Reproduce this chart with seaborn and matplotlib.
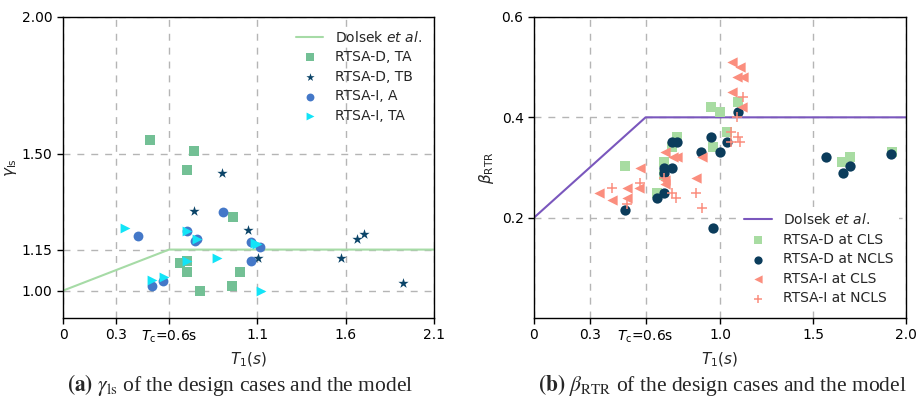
import numpy as np
import pandas as pd
import matplotlib
matplotlib.use("Agg")
import matplotlib.pyplot as plt
import seaborn as sns

# ---------------- data: panel (a) ----------------
dolsek_a_x = [0.0, 0.6, 2.1]
dolsek_a_y = [1.0, 1.15, 1.15]

rtsa_d_ta_x = [0.49, 0.74, 0.70, 0.96, 0.66, 0.70, 0.70, 1.00, 0.955, 0.775]
rtsa_d_ta_y = [1.55, 1.51, 1.44, 1.27, 1.10, 1.11, 1.067, 1.067, 1.018, 0.997]

rtsa_d_tb_x = [0.90, 0.74, 1.045, 1.105, 1.573, 1.662, 1.703, 1.922]
rtsa_d_tb_y = [1.43, 1.29, 1.22, 1.12, 1.12, 1.19, 1.207, 1.028]

rtsa_i_a_x = [0.423, 0.904, 0.702, 0.747, 0.76, 1.062, 1.115, 1.062, 0.505, 0.564]
rtsa_i_a_y = [1.198, 1.289, 1.219, 1.18, 1.188, 1.178, 1.158, 1.107, 1.018, 1.037]

rtsa_i_ta_x = [0.351, 0.702, 0.76, 1.085, 1.10, 0.70, 0.87, 0.502, 0.572, 1.119]
rtsa_i_ta_y = [1.228, 1.219, 1.189, 1.175, 1.17, 1.11, 1.12, 1.039, 1.049, 0.997]

a_xticks = [0, 0.3, 0.6, 1.1, 1.6, 2.1]
a_xticklabels = ["0", "0.3", r"$T_{\rm c}$=0.6s", "1.1", "1.6", "2.1"]
a_yticks = [1.0, 1.15, 1.5, 2.0]
a_yticklabels = ["1.00", "1.15", "1.50", "2.00"]

# ---------------- data: panel (b) ----------------
dolsek_b_x = [0.0, 0.6, 2.0]
dolsek_b_y = [0.2, 0.4, 0.4]

d_cls_x = [0.489, 0.95, 1.0, 1.098, 1.039, 0.767, 0.74, 0.961, 0.699, 0.699, 0.66, 1.923, 1.699, 1.658]
d_cls_y = [0.303, 0.421, 0.411, 0.431, 0.371, 0.361, 0.34, 0.34, 0.311, 0.285, 0.249, 0.331, 0.321, 0.31]

d_ncls_x = [1.098, 0.74, 0.771, 0.95, 1.039, 1.0, 0.90, 0.699, 0.74, 0.699, 0.699, 0.66, 0.489, 0.961,
            1.57, 1.699, 1.66, 1.919]
d_ncls_y = [0.411, 0.351, 0.351, 0.36, 0.351, 0.33, 0.331, 0.30, 0.30, 0.289, 0.249, 0.24, 0.215, 0.18,
            0.32, 0.303, 0.29, 0.326]

i_cls_x = [1.063, 1.108, 1.09, 1.122, 1.063, 1.117, 0.704, 0.749, 0.771, 0.905, 0.57, 0.871, 0.704, 0.704,
           0.502, 0.565, 0.351, 0.502, 0.421]
i_cls_y = [0.511, 0.501, 0.481, 0.481, 0.451, 0.42, 0.33, 0.32, 0.32, 0.32, 0.30, 0.28, 0.275, 0.268,
           0.26, 0.26, 0.249, 0.24, 0.236]

i_ncls_x = [1.122, 1.09, 1.058, 1.098, 1.108, 1.058, 0.699, 0.744, 0.762, 0.869, 0.901, 0.421, 0.57, 0.502]
i_ncls_y = [0.44, 0.40, 0.371, 0.361, 0.35, 0.35, 0.28, 0.249, 0.24, 0.249, 0.22, 0.26, 0.27, 0.228]

b_xticks = [0, 0.3, 0.6, 1.0, 1.5, 2.0]
b_xticklabels = ["0", "0.3", r"$T_{\rm c}$=0.6s", "1.0", "1.5", "2.0"]
b_yticks = [0.2, 0.4, 0.6]
b_yticklabels = ["0.2", "0.4", "0.6"]

# ---------------- plotting ----------------
sns.set_style("white")
plt.rcParams["font.family"] = ["DejaVu Sans"]
plt.rcParams["font.size"] = 10

fig = plt.figure(figsize=(9.19, 3.99), dpi=100)
ax1 = fig.add_axes([63 / 919, 1 - 318 / 399, 371 / 919, 301 / 399])
ax2 = fig.add_axes([534 / 919, 1 - 318 / 399, 372 / 919, 301 / 399])

grid_kw = dict(color="#b5b5b5", linestyle=(0, (5, 5)), linewidth=1.0)

def style_axes(ax):
    for s in ax.spines.values():
        s.set_visible(True)
        s.set_color("black")
        s.set_linewidth(1.0)
    ax.tick_params(axis="both", which="both", direction="out", length=4, width=1,
                   bottom=True, left=True, labelsize=10, colors="black")
    ax.set_axisbelow(True)
    ax.grid(True, **grid_kw)

# panel (a)
sns.lineplot(x=dolsek_a_x, y=dolsek_a_y, ax=ax1, color="#a6dba6", linewidth=1.5,
             label=r"Dolsek $\it{et\ al}$.", sort=False, estimator=None)
sns.scatterplot(x=rtsa_d_ta_x, y=rtsa_d_ta_y, ax=ax1, marker="s", color="#73c095",
                s=45, linewidth=0, label="RTSA-D, TA", zorder=3)
sns.scatterplot(x=rtsa_d_tb_x, y=rtsa_d_tb_y, ax=ax1, marker="*", color="#0b4468",
                s=60, linewidth=0, label="RTSA-D, TB", zorder=3)
sns.scatterplot(x=rtsa_i_a_x, y=rtsa_i_a_y, ax=ax1, marker="o", color="#4478c8",
                s=50, linewidth=0, label="RTSA-I, A", zorder=3)
sns.scatterplot(x=rtsa_i_ta_x, y=rtsa_i_ta_y, ax=ax1, marker=">", color="#12e4f7",
                s=50, linewidth=0, label="RTSA-I, TA", zorder=3)
ax1.set_xlim(0, 2.1)
ax1.set_ylim(0.9, 2.0)
ax1.set_xticks(a_xticks)
ax1.set_xticklabels(a_xticklabels)
ax1.set_yticks(a_yticks)
ax1.set_yticklabels(a_yticklabels)
ax1.set_xlabel(r"$T_1(s)$", fontsize=11)
ax1.set_ylabel(r"$\gamma_{\rm ls}$", fontsize=11, labelpad=2)
style_axes(ax1)
ax1.legend(loc="upper right", frameon=False, fontsize=10, markerscale=0.8,
           borderaxespad=0.5, handlelength=2.0, labelspacing=0.4)

# panel (b)
sns.lineplot(x=dolsek_b_x, y=dolsek_b_y, ax=ax2, color="#7a57bd", linewidth=1.5,
             label=r"Dolsek $\it{et\ al}$.", sort=False, estimator=None)
sns.scatterplot(x=d_cls_x, y=d_cls_y, ax=ax2, marker="s", color="#a8dca2",
                s=50, linewidth=0, label="RTSA-D at CLS", zorder=3)
sns.scatterplot(x=d_ncls_x, y=d_ncls_y, ax=ax2, marker="o", color="#0b3c5b",
                s=55, linewidth=0, label="RTSA-D at NCLS", zorder=3)
sns.scatterplot(x=i_cls_x, y=i_cls_y, ax=ax2, marker="<", color="#fb8e7e",
                s=55, linewidth=0, label="RTSA-I at CLS", zorder=3)
sns.scatterplot(x=i_ncls_x, y=i_ncls_y, ax=ax2, marker="+", color="#fb8e7e",
                s=45, linewidth=1.1, label="RTSA-I at NCLS", zorder=3)
ax2.set_xlim(0, 2.0)
ax2.set_ylim(0.0, 0.6)
ax2.set_xticks(b_xticks)
ax2.set_xticklabels(b_xticklabels)
ax2.set_yticks(b_yticks)
ax2.set_yticklabels(b_yticklabels)
ax2.set_xlabel(r"$T_1(s)$", fontsize=11)
ax2.set_ylabel(r"$\beta_{\rm RTR}$", fontsize=11)
style_axes(ax2)
leg2 = ax2.legend(loc="lower right", frameon=True, fontsize=10, markerscale=0.8,
                  borderaxespad=0.5, handlelength=2.0, fancybox=False, labelspacing=0.4)
leg2.get_frame().set_edgecolor("none")
leg2.get_frame().set_facecolor("white")
leg2.get_frame().set_alpha(1.0)

# captions
cap_kw = dict(fontsize=15.5, family="Liberation Serif", math_fontfamily="stix",
              ha="center", va="center")
fig.text(240 / 919, 1 - 385 / 399,
         r"$\mathbf{(a)}$ $\gamma_{\rm ls}$ of the design cases and the model", **cap_kw)
fig.text(722 / 919, 1 - 385 / 399,
         r"$\mathbf{(b)}$ $\beta_{\rm RTR}$ of the design cases and the model", **cap_kw)

fig.savefig("out.png", dpi=100)
